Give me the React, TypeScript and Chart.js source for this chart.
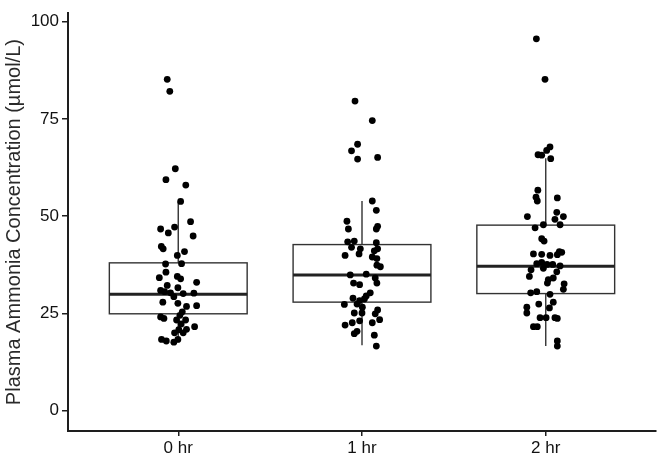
import React, { useEffect, useRef } from "react";
import { Chart, registerables } from "chart.js";

Chart.register(...registerables);

const categories = ["0 hr", "1 hr", "2 hr"];
const yTicks = [0, 25, 50, 75, 100];

// box statistics per group
const q1 = [24.9, 27.9, 30.1];
const median = [29.9, 34.9, 37.1];
const q3 = [38.0, 42.7, 47.7];
const whiskerLow = [17.6, 16.8, 16.6];
const whiskerHigh = [53.7, 53.9, 64.9];

// jittered observations: values and horizontal jitter (category units)
const values0 = [85.2, 82.1, 62.2, 59.4, 58.0, 53.8, 48.6, 46.7, 45.7, 47.2, 44.9, 42.2, 41.6, 40.9, 39.9, 37.7, 37.8, 35.6, 34.2, 34.5, 33.9, 33.0, 32.2, 30.9, 30.6, 30.3, 31.6, 30.1, 30.2, 29.3, 27.9, 27.6, 26.8, 27.0, 25.4, 24.5, 24.1, 23.7, 23.3, 23.3, 22.3, 21.6, 20.9, 20.8, 20.0, 20.0, 18.3, 17.9, 17.6, 18.3];
const jitter0 = [-0.06, -0.046, -0.016, -0.067, 0.041, 0.013, 0.067, -0.096, -0.054, -0.02, 0.081, -0.092, -0.082, 0.034, -0.005, -0.069, 0.018, -0.067, -0.103, -0.005, 0.013, 0.1, -0.06, -0.096, -0.074, -0.042, -0.002, 0.027, 0.085, -0.024, -0.084, -0.002, 0.045, 0.1, 0.022, 0.009, -0.096, -0.078, -0.009, 0.04, 0.016, 0.089, 0.045, 0.003, 0.027, -0.02, -0.091, -0.065, -0.024, -0.002];

const values1 = [79.6, 74.6, 68.5, 66.8, 64.7, 65.1, 53.9, 51.5, 48.7, 46.7, 47.4, 46.7, 43.4, 43.6, 43.2, 42.0, 41.6, 39.9, 40.3, 41.1, 41.6, 39.5, 39.1, 37.4, 37.0, 34.9, 35.1, 34.1, 32.8, 32.8, 32.4, 30.3, 29.5, 28.9, 28.3, 28.7, 27.3, 27.4, 26.6, 25.9, 25.1, 25.1, 24.9, 23.4, 23.1, 22.6, 22.0, 22.6, 20.4, 19.8, 19.4, 16.6];
const jitter1 = [-0.038, 0.056, -0.024, -0.057, -0.024, 0.085, 0.056, 0.078, -0.082, -0.074, 0.085, 0.078, -0.078, -0.042, 0.078, -0.057, -0.009, -0.092, -0.016, 0.067, 0.085, 0.056, 0.081, 0.081, 0.1, -0.064, 0.023, 0.072, 0.081, -0.046, -0.013, 0.045, 0.023, -0.049, -0.013, 0.013, -0.096, -0.027, 0.002, 0.085, -0.042, 0.0, 0.072, 0.096, -0.013, -0.053, -0.092, 0.056, -0.027, -0.042, 0.067, 0.078];

const values2 = [95.6, 85.2, 67.8, 66.9, 65.8, 65.7, 64.8, 56.7, 54.9, 54.7, 53.9, 51.0, 49.9, 49.9, 49.2, 47.8, 47.8, 47.0, 44.2, 43.6, 40.3, 40.2, 39.9, 40.9, 40.7, 40.1, 37.8, 38.1, 37.6, 37.6, 37.2, 36.2, 36.6, 35.7, 34.5, 33.7, 34.1, 32.8, 32.6, 31.2, 30.3, 30.6, 29.9, 27.9, 27.4, 26.4, 26.6, 25.1, 23.9, 23.9, 23.9, 23.7, 21.6, 21.6, 17.9, 16.6];
const jitter2 = [-0.051, -0.004, 0.023, 0.005, -0.042, -0.022, 0.027, -0.043, -0.053, 0.063, -0.046, 0.06, -0.1, 0.096, 0.05, 0.078, -0.013, -0.058, -0.022, -0.009, -0.067, -0.022, 0.023, 0.074, 0.087, 0.063, -0.049, -0.022, 0.007, 0.038, 0.078, -0.08, -0.013, 0.06, -0.089, 0.014, 0.041, 0.009, 0.1, 0.096, -0.082, -0.049, 0.023, 0.041, -0.038, 0.02, -0.103, -0.103, -0.031, 0.002, 0.05, 0.063, -0.067, -0.046, 0.063, 0.063];

const groupValues = [values0, values1, values2];
const groupJitter = [jitter0, jitter1, jitter2];

const FONT = "'Liberation Sans', Arial, Helvetica, sans-serif";
const LINE = "#333333";
const AXIS = "#1e1e1e";

const boxPlugin = {
  id: "boxes",
  beforeDatasetsDraw(chart: any) {
    const { ctx } = chart;
    const x = chart.scales.x;
    const y = chart.scales.y;
    categories.forEach((_, i) => {
      const xl = x.getPixelForValue(i - 0.375);
      const xr = x.getPixelForValue(i + 0.375);
      const xc = x.getPixelForValue(i);
      const yq1 = y.getPixelForValue(q1[i]);
      const yq3 = y.getPixelForValue(q3[i]);
      const ym = y.getPixelForValue(median[i]);
      const ylo = y.getPixelForValue(whiskerLow[i]);
      const yhi = y.getPixelForValue(whiskerHigh[i]);
      ctx.save();
      ctx.strokeStyle = LINE;
      ctx.lineWidth = 1.4;
      ctx.beginPath();
      ctx.moveTo(xc, yhi);
      ctx.lineTo(xc, yq3);
      ctx.moveTo(xc, yq1);
      ctx.lineTo(xc, ylo);
      ctx.stroke();
      ctx.fillStyle = "#ffffff";
      ctx.fillRect(xl, yq3, xr - xl, yq1 - yq3);
      ctx.strokeRect(xl, yq3, xr - xl, yq1 - yq3);
      ctx.lineWidth = 3;
      ctx.strokeStyle = "#222222";
      ctx.beginPath();
      ctx.moveTo(xl, ym);
      ctx.lineTo(xr, ym);
      ctx.stroke();
      ctx.restore();
    });
  },
};

export default function App() {
  const ref = useRef<HTMLCanvasElement | null>(null);

  useEffect(() => {
    if (!ref.current) return;
    const datasets = groupValues.map((vals, i) => ({
      label: categories[i],
      data: vals.map((v, k) => ({ x: i + groupJitter[i][k], y: v })),
      backgroundColor: "#000000",
      borderColor: "#000000",
      pointRadius: 3.4,
      pointBorderWidth: 0,
    }));
    const chart = new Chart(ref.current, {
      type: "scatter",
      data: { datasets },
      plugins: [boxPlugin],
      options: {
        animation: false,
        responsive: false,
        maintainAspectRatio: false,
        layout: { padding: { left: 0, right: 3, top: 0, bottom: 0 } },
        plugins: { legend: { display: false }, tooltip: { enabled: false } },
        scales: {
          x: {
            type: "linear",
            min: -0.6,
            max: 2.6,
            afterBuildTicks: (s: any) => {
              s.ticks = categories.map((_, i) => ({ value: i }));
            },
            afterFit: (s: any) => {
              s.height = 25;
            },
            ticks: {
              callback: (v: any) => categories[Math.round(Number(v))] ?? "",
              font: { family: FONT, size: 17 },
              color: "#111111",
              padding: 2,
              maxRotation: 0,
              autoSkip: false,
            },
            grid: {
              drawOnChartArea: false,
              drawTicks: true,
              tickLength: 5,
              color: AXIS,
              lineWidth: 1.5,
            },
            border: { display: true, color: AXIS, width: 2 },
          },
          y: {
            type: "linear",
            min: -5.24,
            max: 102.2,
            afterBuildTicks: (s: any) => {
              s.ticks = yTicks.map((v) => ({ value: v }));
            },
            afterFit: (s: any) => {
              s.width = 68;
            },
            ticks: {
              font: { family: FONT, size: 17 },
              color: "#111111",
              padding: 3,
            },
            grid: {
              drawOnChartArea: false,
              drawTicks: true,
              tickLength: 6,
              color: AXIS,
              lineWidth: 1.5,
            },
            border: { display: true, color: AXIS, width: 2 },
            title: {
              display: true,
              text: "Plasma Ammonia Concentration (µmol/L)",
              font: { family: FONT, size: 20 },
              color: "#2a2a2a",
              padding: { top: 2, bottom: 0 },
            },
          },
        },
      },
    });
    return () => chart.destroy();
  }, []);

  return (
    <div style={{ position: "fixed", left: 0, top: 0, width: 660, height: 456, background: "#fff" }}>
      <canvas ref={ref} width={660} height={456} style={{ width: 660, height: 456 }} />
    </div>
  );
}
